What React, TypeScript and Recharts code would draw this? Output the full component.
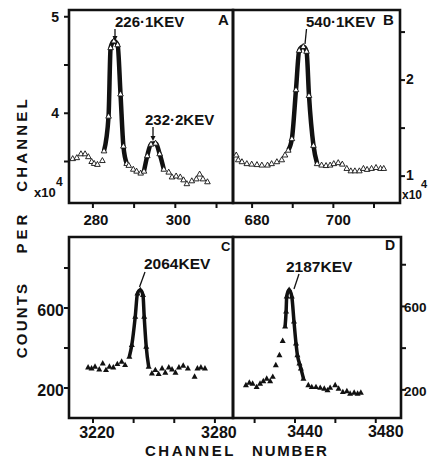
import React from 'react';
import { ComposedChart, Line, Scatter, XAxis, YAxis, ReferenceArea } from 'recharts';

const FONT = '"Liberation Sans", Arial, Helvetica, sans-serif';
const INK = '#111';

// ---- Panel A (counts x10^4) ----
const aChannel = [275.1, 276.1, 277.1, 278.1, 278.9, 279.7, 280.3, 281.1, 282.3, 282.7, 283.8, 284.3, 285.1, 286.0, 286.7, 287.4, 288.2, 288.7, 289.8, 290.6, 291.6, 292.4, 293.2, 294.1, 295.2, 296.2, 297.2, 298.4, 299.2, 300.2, 301.2, 302.0, 302.8, 304.0, 305.1, 305.9, 306.7, 307.8];
const aCounts = [3.53, 3.54, 3.58, 3.58, 3.55, 3.50, 3.48, 3.47, 3.51, 3.61, 3.97, 4.68, 4.75, 4.71, 4.20, 3.66, 3.48, 3.46, 3.42, 3.40, 3.38, 3.40, 3.56, 3.68, 3.69, 3.58, 3.42, 3.39, 3.34, 3.35, 3.34, 3.31, 3.27, 3.30, 3.32, 3.37, 3.32, 3.29];
const aPeakRanges: [number, number][] = [[282.7, 288.2], [292.4, 297.2]];
const aXTicks = [280, 290, 300, 310];
const aXLabels = [280, 300];
const aYTicks = [3.5, 4, 4.5, 5];
const aYLabels = [4, 5];

// ---- Panel B (counts x10^4) ----
const bChannel = [676.1, 676.6, 677.5, 678.7, 679.9, 681.2, 682.4, 683.8, 684.8, 686.1, 687.3, 688.1, 688.9, 689.8, 690.8, 691.6, 692.6, 693.4, 694.0, 695.1, 696.0, 697.1, 698.2, 699.2, 700.1, 701.2, 702.2, 703.3, 704.3, 705.3, 706.4, 707.4, 708.3, 709.4, 710.5, 711.6, 712.4];
const bCounts = [1.22, 1.17, 1.15, 1.13, 1.125, 1.12, 1.115, 1.115, 1.13, 1.15, 1.17, 1.22, 1.27, 1.39, 1.90, 2.31, 2.35, 2.30, 1.84, 1.32, 1.13, 1.115, 1.11, 1.115, 1.13, 1.14, 1.125, 1.08, 1.055, 1.055, 1.055, 1.08, 1.07, 1.08, 1.09, 1.08, 1.08];
const bPeakRanges: [number, number][] = [[688.9, 696.0]];
const bXTicks = [680, 690, 700, 710];
const bXLabels = [680, 700];
const bYTicks = [1, 1.5, 2, 2.5];
const bYLabels = [1, 2];

// ---- Panel C ----
const cChannel = [3217.6, 3219.3, 3221.0, 3223.1, 3224.8, 3226.4, 3228.1, 3230.0, 3232.0, 3234.1, 3235.8, 3237.9, 3239.1, 3240.8, 3241.9, 3243.3, 3244.6, 3245.2, 3246.2, 3247.4, 3249.0, 3250.7, 3252.3, 3254.0, 3255.6, 3257.3, 3258.9, 3260.6, 3262.3, 3264.4, 3266.7, 3270.0, 3271.4, 3273.1, 3275.1];
const cCounts = [303, 298, 307, 293, 323, 290, 307, 303, 320, 332, 315, 357, 415, 557, 673, 690, 665, 557, 407, 307, 273, 290, 270, 298, 277, 303, 293, 277, 303, 312, 298, 257, 298, 303, 298];
const cPeakRanges: [number, number][] = [[3237.9, 3247.4]];
const cXTicks = [3220, 3240, 3260, 3280];
const cXLabels = [3220, 3280];
const cYTicks = [200, 400, 600, 800];
const cYLabels = [200, 600];

// ---- Panel D ----
const dChannel = [3415.7, 3417.4, 3419.0, 3421.0, 3422.7, 3424.3, 3426.0, 3427.7, 3429.0, 3430.5, 3432.3, 3433.9, 3435.1, 3435.6, 3435.9, 3437.1, 3438.4, 3439.5, 3440.5, 3441.2, 3442.2, 3442.9, 3444.2, 3446.6, 3448.3, 3450.4, 3452.5, 3454.5, 3456.1, 3457.4, 3459.9, 3461.6, 3463.7, 3465.7, 3467.3, 3469.3, 3471.0, 3472.6];
const dCounts = [223, 235, 230, 214, 230, 242, 254, 242, 263, 319, 367, 435, 504, 576, 648, 680, 648, 528, 423, 367, 327, 303, 254, 223, 214, 214, 210, 206, 198, 210, 223, 206, 190, 194, 182, 187, 182, 187];
const dPeakRanges: [number, number][] = [[3435.1, 3444.2]];
const dXTicks = [3420, 3440, 3460, 3480];
const dXLabels = [3440, 3480];
const dYTicks = [200, 400, 600, 800];
const dYLabels = [200, 600];

const AXW = 20; // axis band size (x-axis height / y-axis width)

function makeTick(show: number[], dx: number, dy: number, anchor: string, size: number) {
  return (props: any) => {
    const { x, y, payload } = props;
    if (!show.includes(payload.value)) return <g />;
    return (
      <text x={x + dx} y={y + dy} textAnchor={anchor} fontSize={size} fontWeight="bold" fontFamily={FONT} fill={INK}>
        {String(payload.value)}
      </text>
    );
  };
}

const openTri = (p: any) => (
  <polygon points={`${p.cx},${p.cy - 3} ${p.cx - 2.8},${p.cy + 2} ${p.cx + 2.8},${p.cy + 2}`} fill="#fff" stroke={INK} strokeWidth={0.9} />
);
const fillTri = (p: any) => (
  <polygon points={`${p.cx},${p.cy - 3.3} ${p.cx - 3},${p.cy + 2.1} ${p.cx + 3},${p.cy + 2.1}`} fill={INK} />
);

type PanelProps = {
  channels: number[]; counts: number[]; peaks: [number, number][];
  xDomain: [number, number]; yDomain: [number, number];
  xTicks: number[]; xLabels: number[]; yTicks: number[]; yLabels: number[];
  ySide: 'left' | 'right';
  frame: { top: number; left: number; right: number; bottom: number };
  filled: boolean; thick: number;
  xdx: number; xdy: number; xFont: number; ydx: number; ydy: number; yFont: number;
};

function Panel(p: PanelProps) {
  const pts = p.channels.map((c, i) => ({ ch: c, v: p.counts[i] }));
  const segs = p.peaks.map(([a, b]) => pts.filter((q) => q.ch >= a && q.ch <= b));
  const f = p.frame;
  const margin = {
    top: f.top,
    bottom: 459 - f.bottom - AXW,
    left: p.ySide === 'left' ? f.left - AXW : f.left,
    right: p.ySide === 'right' ? 429 - f.right - AXW : 429 - f.right,
  };
  return (
    <div style={{ position: 'absolute', left: 0, top: 0 }}>
      <ComposedChart width={429} height={459} margin={margin}>
        <XAxis dataKey="ch" type="number" domain={p.xDomain} allowDataOverflow ticks={p.xTicks} interval={0}
          height={AXW} axisLine={false} tickSize={5} tickMargin={2}
          tickLine={{ stroke: INK, strokeWidth: 2 }}
          tick={makeTick(p.xLabels, p.xdx, p.xdy, 'middle', p.xFont)} />
        <YAxis type="number" domain={p.yDomain} allowDataOverflow ticks={p.yTicks} interval={0}
          width={AXW} orientation={p.ySide} axisLine={false} tickSize={5} tickMargin={1}
          tickLine={{ stroke: INK, strokeWidth: 2 }}
          tick={makeTick(p.yLabels, p.ydx, p.ydy, p.ySide === 'left' ? 'end' : 'start', p.yFont)} />
        {segs.map((s, i) => (
          <Line key={i} data={s} dataKey="v" type="monotone" stroke={INK} strokeWidth={p.thick}
            dot={false} activeDot={false} isAnimationActive={false} />
        ))}
        <Scatter data={pts} dataKey="v" shape={p.filled ? fillTri : openTri} isAnimationActive={false} />
        <ReferenceArea x1={p.xDomain[0]} x2={p.xDomain[1]} y1={p.yDomain[0]} y2={p.yDomain[1]}
          fill="none" fillOpacity={0} stroke={INK} strokeWidth={2.6} ifOverflow="visible" />
      </ComposedChart>
    </div>
  );
}

const txt = { fontFamily: FONT, fontWeight: 'bold' as const, fill: INK };

export default function App() {
  return (
    <div style={{ position: 'absolute', left: 0, top: 0, width: 429, height: 459, background: '#fff', overflow: 'hidden' }}>
      <Panel channels={aChannel} counts={aCounts} peaks={aPeakRanges}
        xDomain={[274.2, 314.0]} yDomain={[3.07, 5.07]}
        xTicks={aXTicks} xLabels={aXLabels} yTicks={aYTicks} yLabels={aYLabels}
        ySide="left" frame={{ top: 10, left: 69, right: 233, bottom: 203 }}
        filled={false} thick={4.5} xdx={3} xdy={15} xFont={15} ydx={-4} ydy={5} yFont={14} />
      <Panel channels={bChannel} counts={bCounts} peaks={bPeakRanges}
        xDomain={[675.3, 716.4]} yDomain={[0.72, 2.73]}
        xTicks={bXTicks} xLabels={bXLabels} yTicks={bYTicks} yLabels={bYLabels}
        ySide="right" frame={{ top: 10, left: 233, right: 400, bottom: 203 }}
        filled={false} thick={4.5} xdx={5} xdy={15} xFont={15} ydx={0} ydy={4} yFont={14} />
      <Panel channels={cChannel} counts={cCounts} peaks={cPeakRanges}
        xDomain={[3208.2, 3288.9]} yDomain={[50, 955]}
        xTicks={cXTicks} xLabels={cXLabels} yTicks={cYTicks} yLabels={cYLabels}
        ySide="left" frame={{ top: 237, left: 69, right: 233, bottom: 418 }}
        filled={true} thick={3.5} xdx={4} xdy={13} xFont={16} ydx={1} ydy={8} yFont={16} />
      <Panel channels={dChannel} counts={dCounts} peaks={dPeakRanges}
        xDomain={[3409.3, 3492.5]} yDomain={[65, 933]}
        xTicks={dXTicks} xLabels={dXLabels} yTicks={dYTicks} yLabels={dYLabels}
        ySide="right" frame={{ top: 237, left: 233, right: 401, bottom: 418 }}
        filled={true} thick={3.5} xdx={10} xdy={12} xFont={16} ydx={-3} ydy={6} yFont={13.5} />
      <svg width={429} height={459} style={{ position: 'absolute', left: 0, top: 0, pointerEvents: 'none' }}>
        <text x={115} y={27} fontSize={15} {...txt}>226·1KEV</text>
        <line x1={115} y1={29} x2={115} y2={38} stroke={INK} strokeWidth={1.3} />
        <polygon points="112.5,36 117.5,36 115,41" fill={INK} />
        <text x={145} y={125} fontSize={15} {...txt}>232·2KEV</text>
        <line x1={153} y1={127} x2={153} y2={138} stroke={INK} strokeWidth={1.3} />
        <polygon points="150.5,136 155.5,136 153,141" fill={INK} />
        <text x={218} y={25} fontSize={15} {...txt}>A</text>
        <text x={306} y={27} fontSize={15} {...txt}>540·1KEV</text>
        <line x1={306.5} y1={29} x2={305} y2={44} stroke={INK} strokeWidth={1.3} />
        <text x={383} y={25} fontSize={15} {...txt}>B</text>
        <text x={144} y={269} fontSize={15.5} {...txt}>2064KEV</text>
        <line x1={145} y1={272} x2={139.5} y2={287} stroke={INK} strokeWidth={1.3} />
        <text x={221} y={251} fontSize={13} {...txt}>C</text>
        <text x={286} y={272} fontSize={15.5} {...txt}>2187KEV</text>
        <line x1={299} y1={274} x2={294} y2={289} stroke={INK} strokeWidth={1.3} />
        <text x={385} y={250} fontSize={14} {...txt}>D</text>
        <text x={34} y={197} fontSize={13} {...txt}>x10</text>
        <text x={56} y={186} fontSize={12} {...txt}>4</text>
        <text x={402} y={199} fontSize={12} {...txt}>x10</text>
        <text x={421} y={188} fontSize={11} {...txt}>4</text>
        <text transform="translate(27,320) rotate(-90)" textAnchor="middle" fontSize={15} letterSpacing={2.2} {...txt}>COUNTS</text>
        <text transform="translate(27,232) rotate(-90)" textAnchor="middle" fontSize={15} letterSpacing={4} {...txt}>PER</text>
        <text transform="translate(27,144) rotate(-90)" textAnchor="middle" fontSize={15} letterSpacing={3.2} {...txt}>CHANNEL</text>
        <text x={145} y={456} fontSize={15} letterSpacing={2.5} {...txt}>CHANNEL</text>
        <text x={252} y={456} fontSize={15} letterSpacing={1.8} {...txt}>NUMBER</text>
      </svg>
    </div>
  );
}
